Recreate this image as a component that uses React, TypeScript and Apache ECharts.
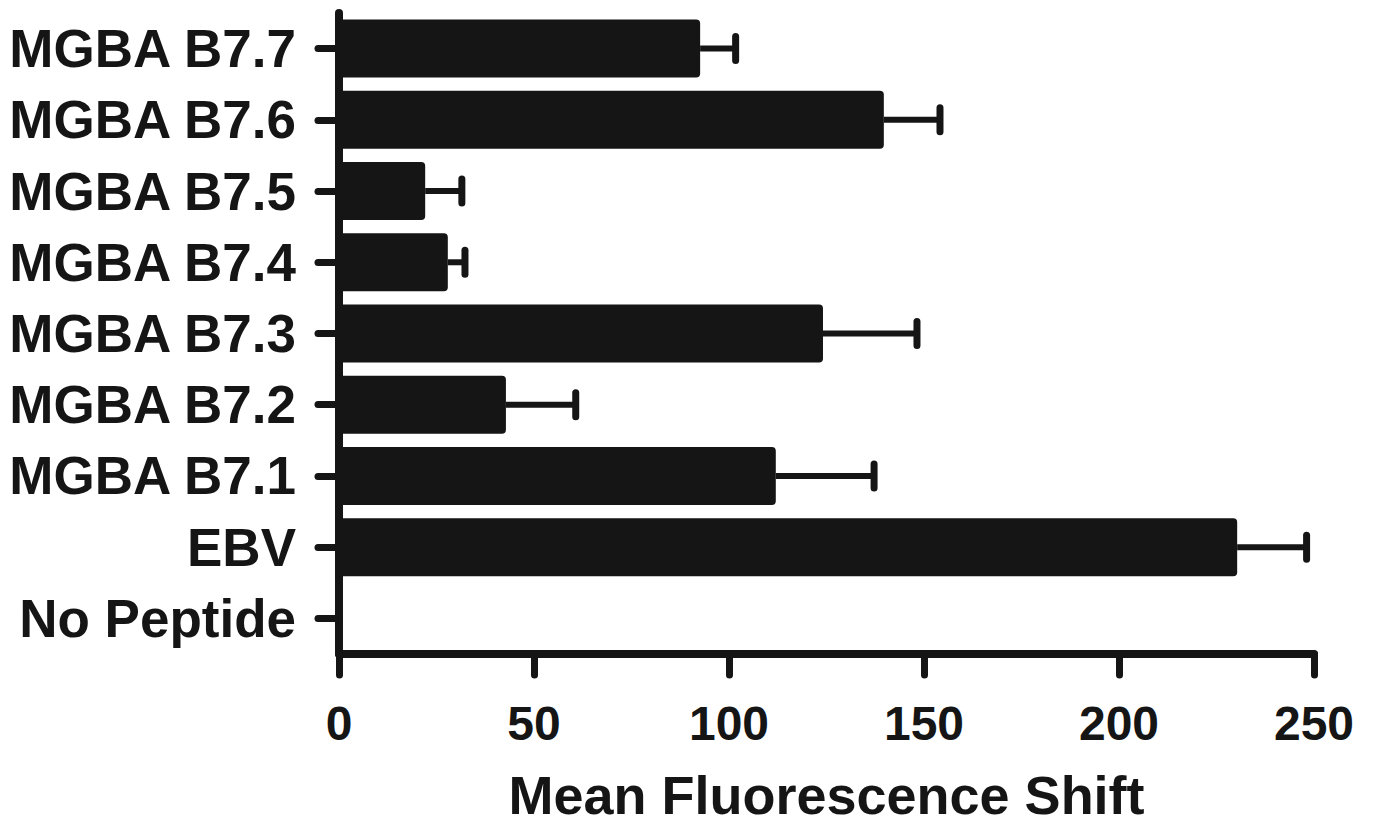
import React, { useEffect, useRef } from "react";
import * as echarts from "echarts";

const categories = [
  "MGBA B7.7",
  "MGBA B7.6",
  "MGBA B7.5",
  "MGBA B7.4",
  "MGBA B7.3",
  "MGBA B7.2",
  "MGBA B7.1",
  "EBV",
  "No Peptide",
];
const means = [92.6, 139.7, 22.1, 27.9, 124.1, 42.8, 112.0, 230.3, 0];
const errors = [9.1, 14.4, 9.4, 4.4, 24.1, 17.9, 25.2, 17.8, 0];
const xTicks = [0, 50, 100, 150, 200, 250];
const xTitle = "Mean Fluorescence Shift";

const INK = "#151515";
const FONT = "'Liberation Sans', Arial, Helvetica, sans-serif";

export default function App() {
  const ref = useRef<HTMLDivElement>(null);

  useEffect(() => {
    if (!ref.current) return;
    const chart = echarts.init(ref.current, undefined, { renderer: "svg" });
    const errData = categories.map((_, i) => [means[i] + errors[i], i, means[i]]);
    chart.setOption({
      animation: false,
      backgroundColor: "#ffffff",
      grid: { left: 339, right: 59, top: 13, bottom: 164, containLabel: false },
      xAxis: {
        type: "value",
        min: xTicks[0],
        max: xTicks[xTicks.length - 1],
        interval: 50,
        splitLine: { show: false },
        axisLine: { show: true, lineStyle: { color: INK, width: 8, cap: "round" } },
        axisTick: { show: true, length: 21, lineStyle: { color: INK, width: 7, cap: "round" } },
        axisLabel: {
          color: INK,
          fontFamily: FONT,
          fontWeight: "bold",
          fontSize: 48,
          margin: 45,
        },
        name: xTitle,
        nameLocation: "middle",
        nameGap: 114,
        nameTextStyle: {
          color: INK,
          fontFamily: FONT,
          fontWeight: "bold",
          fontSize: 54,
        },
      },
      yAxis: {
        type: "category",
        inverse: true,
        data: categories,
        axisLine: { show: true, lineStyle: { color: INK, width: 8, cap: "round" } },
        axisTick: {
          show: true,
          alignWithLabel: true,
          length: 21,
          lineStyle: { color: INK, width: 7, cap: "round" },
        },
        axisLabel: {
          color: INK,
          fontFamily: FONT,
          fontWeight: "bold",
          fontSize: 53,
          margin: 43,
        },
        splitLine: { show: false },
      },
      series: [
        {
          type: "bar",
          data: means,
          barWidth: 58,
          itemStyle: { color: INK, borderRadius: [0, 4, 4, 0] },
          z: 3,
        },
        {
          type: "custom",
          data: errData,
          encode: { x: [0, 2], y: 1 },
          z: 2,
          renderItem: (params: any, api: any) => {
            const upper = api.value(0);
            const mean = api.value(2);
            if (!(upper > mean)) return null;
            const s = api.coord([mean, api.value(1)]);
            const e = api.coord([upper, api.value(1)]);
            return {
              type: "group",
              children: [
                {
                  type: "line",
                  shape: { x1: s[0], y1: s[1], x2: e[0], y2: e[1] },
                  style: { stroke: INK, lineWidth: 6 },
                },
                {
                  type: "line",
                  shape: { x1: e[0], y1: e[1] - 12, x2: e[0], y2: e[1] + 12 },
                  style: { stroke: INK, lineWidth: 7, lineCap: "round" },
                },
              ],
            };
          },
        },
      ],
    });
    return () => chart.dispose();
  }, []);

  return (
    <div
      ref={ref}
      style={{
        position: "fixed",
        left: 0,
        top: 0,
        width: 1373,
        height: 827,
        background: "#ffffff",
      }}
    />
  );
}
